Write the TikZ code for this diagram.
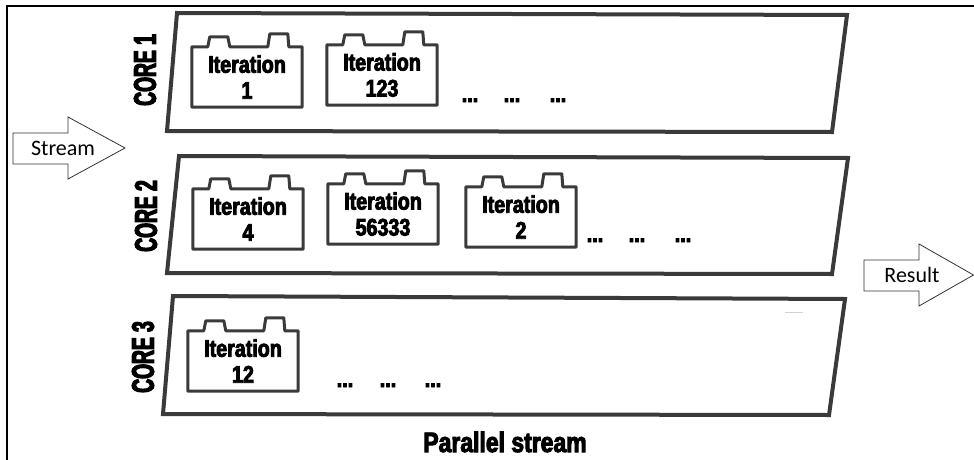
\documentclass[tikz,border=0pt]{standalone}
\usepackage{fontspec}
\newfontfamily\corefont[FakeStretch=0.62,BoldFeatures={FakeStretch=0.62,FakeBold=4}]{Liberation Sans}
\newfontfamily\iterfont[FakeStretch=0.82,BoldFeatures={FakeStretch=0.82,FakeBold=3.5}]{Liberation Sans}
\newfontfamily\calfont{Carlito}
\definecolor{lineg}{HTML}{3A3A3A}
\newcommand\battout[1]{%
  \draw[battline] (#1.north west) -- ++(16,0) -- ++(2,-10) -- ++(18,0) -- ++(2,10)
    -- ++(38,0) -- ++(2,-13) -- ++(18,0) -- ++(1,13) -- (#1.north east)
    -- (#1.south east) -- (#1.south west) -- cycle;}
\begin{document}
\begin{tikzpicture}[x=1pt,y=-1pt,
  core/.style={draw=lineg, line width=4pt, line join=miter},
  batt/.style={draw=none, minimum width=110pt, minimum height=60pt, inner sep=0pt,
    align=center, font=\iterfont\bfseries\fontsize{24}{26}\selectfont},
  battline/.style={draw=lineg, line width=3pt, line join=round},
  corelab/.style={rotate=90, inner sep=0pt, font=\corefont\bfseries\fontsize{31}{31}\selectfont},
  dots/.style={anchor=base, inner sep=0pt, font=\iterfont\bfseries\fontsize{24}{24}\selectfont},
  bigarrow/.style={draw=black!80, line width=0.8pt, fill=white, line join=miter},
  arrtext/.style={inner sep=0pt, font=\calfont\fontsize{22}{22}\selectfont}
]
\useasboundingbox (0,0) rectangle (974,460);
% outer frame
\draw[line width=2pt] (7,460) -- (7,6) -- (974,6);

% cores
\draw[core] (177,13) -- (847,15) -- (832,132) -- (167,131) -- cycle;
\draw[core] (179,156) -- (848,158) -- (832,274) -- (167,273) -- cycle;
\draw[core] (173,296) -- (845,299) -- (829,415) -- (163,414) -- cycle;
\draw[gray!35, line width=1pt] (785,312) -- (803,312);

\node[corelab] (c1) at (145,70) {CORE 1};
\node[corelab] (c2) at (146,216) {CORE 2};
\node[corelab] (c3) at (143,357) {CORE 3};

% iterations
\node[batt] (b1) at (247,77) {Iteration\\1};
\node[batt] (b2) at (382,75) {Iteration\\123};
\node[batt] (b3) at (248,219) {Iteration\\4};
\node[batt] (b4) at (383,214) {Iteration\\56333};
\node[batt] (b5) at (521,217) {Iteration\\2};
\node[batt] (b6) at (243,361) {Iteration\\12};
\battout{b1}\battout{b2}\battout{b3}\battout{b4}\battout{b5}\battout{b6}

% dots
\node[dots] (d1a) at (470,102) {...};
\node[dots] (d1b) at (512,102) {...};
\node[dots] (d1c) at (558,102) {...};
\node[dots] (d2a) at (595,242) {...};
\node[dots] (d2b) at (637,242) {...};
\node[dots] (d2c) at (683,242) {...};
\node[dots] (d3a) at (345,387) {...};
\node[dots] (d3b) at (388,387) {...};
\node[dots] (d3c) at (433,387) {...};

% arrows
\draw[bigarrow] (13,133) -- (68,133) -- (68,117) -- (125,148) -- (68,179) -- (68,164) -- (13,164) -- cycle;
\node[arrtext] (stream) at (63,148) {Stream};
\draw[bigarrow] (864,260) -- (919,260) -- (919,244) -- (973.5,275) -- (919,306) -- (919,291) -- (864,291) -- cycle;
\node[arrtext] (result) at (912,275) {Result};

\node[inner sep=0pt, font=\iterfont\bfseries\fontsize{28}{28}\selectfont] (ps) at (505,442) {Parallel stream};
\end{tikzpicture}
\end{document}
